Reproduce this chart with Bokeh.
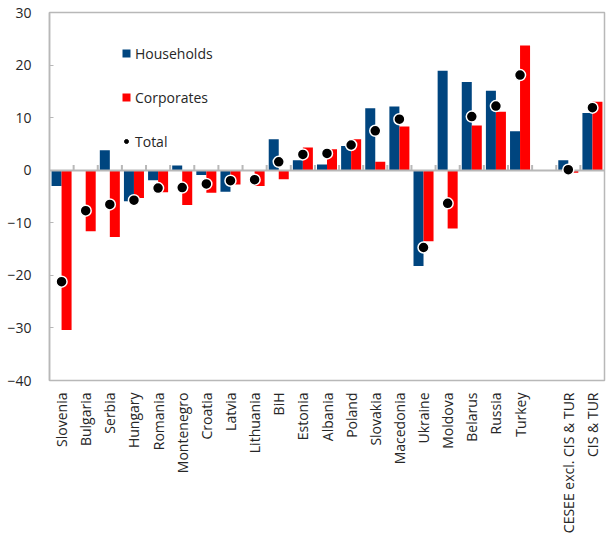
import math
from bokeh.plotting import figure
from bokeh.models import FactorRange, Range1d, Legend, LegendItem, SingleIntervalTicker, ColumnDataSource
from bokeh.transform import dodge
from bokeh.embed import file_html
from bokeh.resources import INLINE

# ---- data ----
categories = ["Slovenia", "Bulgaria", "Serbia", "Hungary", "Romania", "Montenegro",
              "Croatia", "Latvia", "Lithuania", "BiH", "Estonia", "Albania", "Poland",
              "Slovakia", "Macedonia", "Ukraine", "Moldova", "Belarus", "Russia", "Turkey",
              "CESEE excl. CIS & TUR", "CIS & TUR"]
households = [-3.0, 0.0, 3.8, -5.9, -1.9, 0.9, -0.9, -4.1, 0.0, 5.9, 1.9, 1.1, 4.6,
              11.8, 12.1, -18.2, 18.9, 16.8, 15.1, 7.4, 1.9, 10.9]
corporates = [-30.4, -11.6, -12.7, -5.3, -4.2, -6.6, -4.3, -2.7, -3.0, -1.7, 4.3, 4.0, 5.9,
              1.6, 8.3, -13.5, -11.1, 8.5, 11.1, 23.7, -0.5, 13.0]
total = [-21.2, -7.7, -6.5, -5.7, -3.4, -3.3, -2.6, -2.0, -1.8, 1.6, 3.0, 3.2, 4.8,
         7.5, 9.7, -14.7, -6.3, 10.2, 12.2, 18.1, 0.1, 11.9]
gap_label = " "
factors = categories[:20] + [gap_label] + categories[20:]

BLUE = "#00457f"
RED = "#ff0000"
GRAY = "#b8b8b8"
TXT = "#262626"
FONT = "Open Sans"

p = figure(x_range=FactorRange(factors=factors), y_range=Range1d(-40, 30),
           frame_width=555, frame_height=368,
           min_border_left=49, min_border_right=5, min_border_top=12, min_border_bottom=146,
           output_backend="svg", toolbar_location=None)
p.xgrid.visible = False
p.ygrid.visible = False
p.outline_line_color = GRAY
p.outline_line_width = 1.5
p.background_fill_color = "white"
p.border_fill_color = "white"

src = ColumnDataSource(dict(cat=categories, hh=households, corp=corporates, tot=total))

r_hh = p.vbar(x=dodge("cat", -0.2075, range=p.x_range), top="hh", bottom=0, width=0.415,
              source=src, fill_color=BLUE, line_color=None)
r_co = p.vbar(x=dodge("cat", 0.2075, range=p.x_range), top="corp", bottom=0, width=0.415,
              source=src, fill_color=RED, line_color=None)

# zero line and category boundary ticks
p.hspan(y=[0], line_color=GRAY, line_width=2)
bsrc = ColumnDataSource(dict(cat=factors[1:]))
p.segment(x0=dodge("cat", -0.5, range=p.x_range), x1=dodge("cat", -0.5, range=p.x_range),
          y0=0, y1=1.0, source=bsrc, line_color=GRAY, line_width=2)

# small dots (used for the legend swatch), hidden under the big ones
r_tot_leg = p.scatter(x="cat", y="tot", source=src, size=6, fill_color="black", line_color="black")
r_tot = p.scatter(x="cat", y="tot", source=src, size=11, fill_color="black",
                  line_color="white", line_width=1.5)

# axes
p.yaxis.ticker = SingleIntervalTicker(interval=10)
p.yaxis.axis_line_color = GRAY
p.yaxis.axis_line_width = 1.5
p.yaxis.major_tick_line_color = GRAY
p.yaxis.major_tick_in = 4
p.yaxis.major_tick_out = 0
p.yaxis.minor_tick_line_color = None
p.yaxis.major_label_standoff = 14
p.yaxis.major_label_text_font = FONT
p.yaxis.major_label_text_font_size = "14px"
p.yaxis.major_label_text_color = TXT

p.xaxis.axis_line_color = None
p.xaxis.major_tick_line_color = None
p.xaxis.minor_tick_line_color = None
p.xaxis.major_label_orientation = math.pi / 2
p.xaxis.major_label_standoff = 6
p.xaxis.major_label_text_font = FONT
p.xaxis.major_label_text_font_size = "14px"
p.xaxis.major_label_text_color = TXT

legend = Legend(items=[LegendItem(label="Households", renderers=[r_hh]),
                       LegendItem(label="Corporates", renderers=[r_co]),
                       LegendItem(label="Total", renderers=[r_tot_leg])],
                location=(72, 229), orientation="vertical",
                glyph_width=10, glyph_height=10, label_height=20, spacing=24,
                label_standoff=4, padding=0, margin=0,
                border_line_color=None, background_fill_alpha=0,
                label_text_font=FONT, label_text_font_size="14px", label_text_color=TXT)
p.add_layout(legend)

open("out.html", "w").write(file_html(p, INLINE))
